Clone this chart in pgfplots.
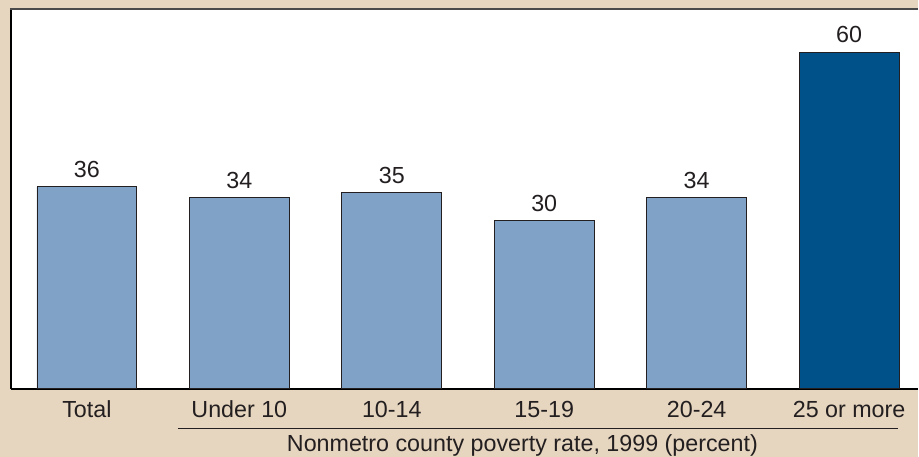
\documentclass[border=0pt]{standalone}
\usepackage{pgfplots}
\pgfplotsset{compat=1.18}
\usepackage{fontspec}
\setmainfont{Liberation Sans}
\definecolor{bgbeige}{HTML}{E6D5BF}
\definecolor{lightbar}{HTML}{7FA2C6}
\definecolor{darkbar}{HTML}{00508A}
\definecolor{txtgray}{HTML}{231F20}
\definecolor{topline}{HTML}{4A4A4A}
\newcommand{\chartfont}{\fontsize{23.3bp}{28bp}\selectfont}
\begin{document}
\begin{tikzpicture}[font=\chartfont]
% background panel and white plot area
\fill[bgbeige] (-11bp,-68bp) rectangle (908bp,389bp);
\fill[white] (0bp,0bp) rectangle (908bp,380bp);
\begin{axis}[
  at={(0,0)}, anchor=south west,
  scale only axis,
  width=908bp, height=380bp,
  xmin=-0.498, xmax=5.452,
  ymin=0, ymax=67.65,
  axis x line=bottom, axis y line=left,
  axis line style={-, line width=2bp, black},
  ytick=\empty,
  xtick={0,1,2,3,4,5},
  xticklabels={Total, Under 10, 10-14, 15-19, 20-24, 25 or more},
  major tick length=0pt,
  xticklabel style={anchor=base, yshift=-28.7bp, font=\chartfont, text=txtgray},
  ybar, bar width=100bp, bar shift=0pt,
  nodes near coords,
  every node near coord/.append style={anchor=base, yshift=9bp, font=\chartfont, text=txtgray},
  /pgf/number format/assume math mode=true,
  clip=false,
]
\addplot[fill=lightbar, draw=txtgray, line width=0.8bp] coordinates {
  (0,36) (1,34) (2,35) (3,30) (4,34)
};
\addplot[fill=darkbar, draw=txtgray, line width=0.8bp] coordinates {
  (5,60)
};
\end{axis}
% top frame line
\draw[topline, line width=2bp] (-1bp,380bp) -- (908bp,380bp);
% group label under the rate categories
\draw[txtgray, line width=1.3bp] (167bp,-40bp) -- (888bp,-40bp);
\node[anchor=base, text=txtgray, inner sep=0pt] at (512bp,-63bp) {Nonmetro county poverty rate, 1999 (percent)};
\end{tikzpicture}
\end{document}
